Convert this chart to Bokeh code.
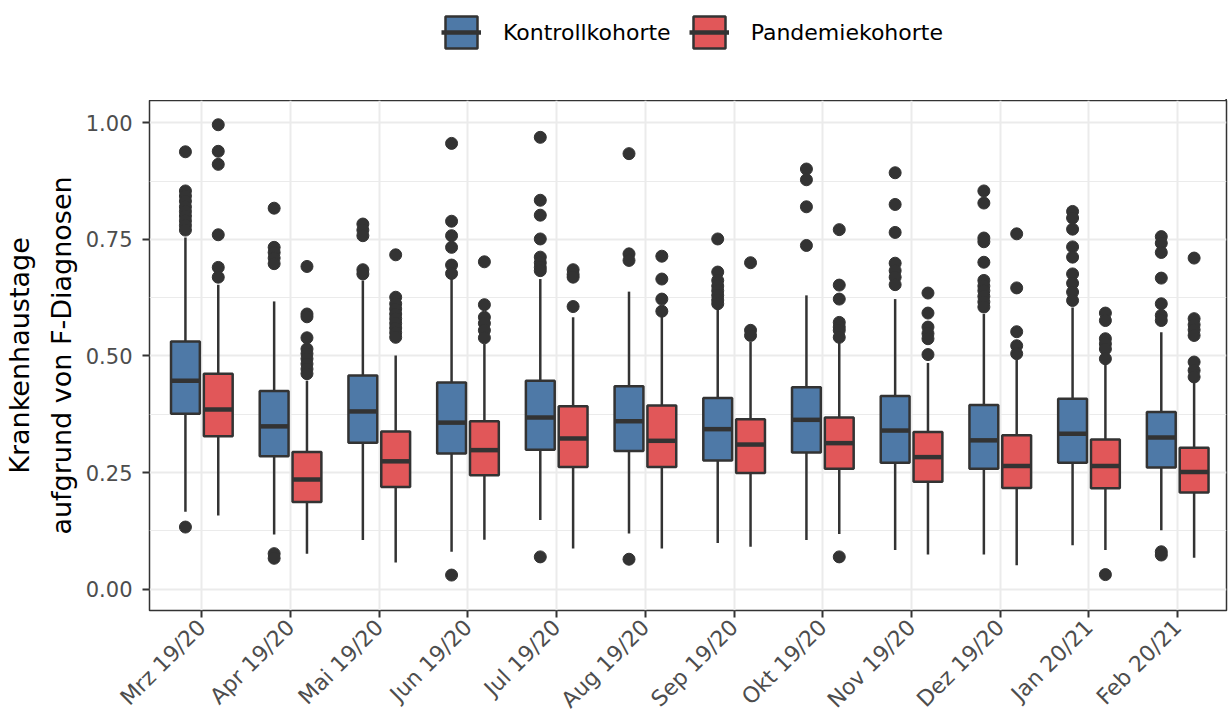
import math
from bokeh.plotting import figure
from bokeh.layouts import column
from bokeh.models import (ColumnDataSource, Range1d, FixedTicker, NumeralTickFormatter,
                          Legend, LegendItem)
from bokeh.transform import dodge
from bokeh.embed import file_html
from bokeh.resources import INLINE

months = ["Mrz 19/20", "Apr 19/20", "Mai 19/20", "Jun 19/20", "Jul 19/20", "Aug 19/20",
          "Sep 19/20", "Okt 19/20", "Nov 19/20", "Dez 19/20", "Jan 20/21", "Feb 20/21"]

# Kontrollkohorte (blue)
ctrl_low  = [0.166, 0.117, 0.105, 0.080, 0.148, 0.119, 0.099, 0.105, 0.084, 0.074, 0.094, 0.126]
ctrl_q1   = [0.376, 0.285, 0.314, 0.291, 0.299, 0.296, 0.276, 0.293, 0.271, 0.258, 0.271, 0.261]
ctrl_med  = [0.447, 0.349, 0.381, 0.357, 0.368, 0.360, 0.343, 0.363, 0.340, 0.319, 0.333, 0.325]
ctrl_q3   = [0.531, 0.425, 0.458, 0.443, 0.447, 0.435, 0.410, 0.433, 0.414, 0.395, 0.408, 0.380]
ctrl_high = [0.754, 0.617, 0.662, 0.669, 0.665, 0.638, 0.601, 0.630, 0.622, 0.590, 0.604, 0.551]
ctrl_out = [
    [0.938, 0.854, 0.843, 0.832, 0.820, 0.810, 0.800, 0.790, 0.780, 0.770, 0.133],
    [0.817, 0.733, 0.722, 0.710, 0.698, 0.076, 0.066],
    [0.783, 0.770, 0.758, 0.685, 0.676],
    [0.956, 0.789, 0.758, 0.733, 0.695, 0.677, 0.030],
    [0.969, 0.834, 0.802, 0.751, 0.712, 0.700, 0.690, 0.683, 0.069],
    [0.934, 0.719, 0.705, 0.064],
    [0.751, 0.680, 0.662, 0.650, 0.640, 0.630, 0.620, 0.612],
    [0.901, 0.878, 0.820, 0.737],
    [0.893, 0.825, 0.765, 0.699, 0.683, 0.669, 0.653],
    [0.854, 0.828, 0.753, 0.745, 0.701, 0.662, 0.650, 0.640, 0.628, 0.616, 0.605],
    [0.810, 0.796, 0.772, 0.734, 0.712, 0.676, 0.656, 0.637, 0.619],
    [0.756, 0.742, 0.722, 0.667, 0.612, 0.587, 0.576, 0.080, 0.073],
]

# Pandemiekohorte (red)
pand_low  = [0.158, 0.076, 0.057, 0.106, 0.087, 0.087, 0.091, 0.118, 0.074, 0.051, 0.084, 0.067]
pand_q1   = [0.328, 0.187, 0.219, 0.244, 0.262, 0.262, 0.249, 0.258, 0.230, 0.217, 0.216, 0.207]
pand_med  = [0.385, 0.235, 0.274, 0.298, 0.323, 0.318, 0.310, 0.313, 0.283, 0.264, 0.264, 0.251]
pand_q3   = [0.462, 0.294, 0.338, 0.360, 0.392, 0.394, 0.364, 0.368, 0.337, 0.330, 0.321, 0.303]
pand_high = [0.653, 0.447, 0.501, 0.526, 0.583, 0.585, 0.530, 0.539, 0.485, 0.492, 0.487, 0.447]
pand_out = [
    [0.996, 0.939, 0.911, 0.760, 0.690, 0.669],
    [0.692, 0.590, 0.584, 0.539, 0.515, 0.505, 0.494, 0.483, 0.472, 0.462],
    [0.717, 0.626, 0.612, 0.601, 0.590, 0.580, 0.570, 0.560, 0.550, 0.540],
    [0.702, 0.610, 0.583, 0.570, 0.555, 0.539],
    [0.685, 0.675, 0.669, 0.606],
    [0.714, 0.665, 0.622, 0.596],
    [0.700, 0.555, 0.544],
    [0.771, 0.652, 0.622, 0.572, 0.562, 0.555, 0.540, 0.069],
    [0.635, 0.592, 0.562, 0.548, 0.537, 0.503],
    [0.762, 0.646, 0.552, 0.522, 0.505],
    [0.592, 0.576, 0.537, 0.526, 0.515, 0.494, 0.031],
    [0.710, 0.580, 0.567, 0.556, 0.544, 0.487, 0.469, 0.455],
]

y_ticks = [0.0, 0.25, 0.5, 0.75, 1.0]
y_minor = [0.125, 0.375, 0.625, 0.875]
y_title = "Krankenhaustage\naufgrund von F-Diagnosen"
series_labels = ["Kontrollkohorte", "Pandemiekohorte"]

BLUE = "#4E79A7"
RED = "#E15759"
DARK = "#333333"
FONT = "DejaVu Sans"
BW = 0.325
OFF = 0.185

xs = list(range(1, len(months) + 1))

# ---------------- main panel ----------------
p = figure(width=1228, height=624, output_backend="svg", toolbar_location=None,
           x_range=Range1d(0.41, 12.55), y_range=Range1d(-0.046, 1.048),
           min_border_left=149, min_border_right=2, min_border_top=0, min_border_bottom=114)
p.background_fill_color = "white"
p.border_fill_color = "white"
p.outline_line_color = DARK
p.outline_line_width = 1.5

series = []
for color, off, low, q1, med, q3, high, outs in [
    (BLUE, -OFF, ctrl_low, ctrl_q1, ctrl_med, ctrl_q3, ctrl_high, ctrl_out),
    (RED, OFF, pand_low, pand_q1, pand_med, pand_q3, pand_high, pand_out),
]:
    src = ColumnDataSource(dict(x=xs, low=low, q1=q1, med=med, q3=q3, high=high))
    series.append((src, color, off))
    p.segment(x0=dodge("x", off, range=p.x_range), y0="low",
              x1=dodge("x", off, range=p.x_range), y1="high",
              source=src, line_color=DARK, line_width=2.5)
    p.vbar(x=dodge("x", off, range=p.x_range), width=BW, top="q3", bottom="q1",
           source=src, fill_color=color, line_color=DARK, line_width=2.5)
    p.segment(x0=dodge("x", off - BW / 2, range=p.x_range), y0="med",
              x1=dodge("x", off + BW / 2, range=p.x_range), y1="med",
              source=src, line_color=DARK, line_width=4.5, line_cap="butt")
    ox, oy = [], []
    for xi, vals in zip(xs, outs):
        for v in vals:
            ox.append(xi)
            oy.append(v)
    osrc = ColumnDataSource(dict(x=ox, y=oy))
    p.scatter(x=dodge("x", off, range=p.x_range), y="y", source=osrc, size=12,
              fill_color=DARK, line_color=DARK)

# grids
p.xgrid.ticker = FixedTicker(ticks=xs)
p.xgrid.grid_line_color = "#EBEBEB"
p.xgrid.grid_line_width = 2
p.ygrid.ticker = FixedTicker(ticks=y_ticks, minor_ticks=y_minor)
p.ygrid.grid_line_color = "#EBEBEB"
p.ygrid.grid_line_width = 2
p.ygrid.minor_grid_line_color = "#EBEBEB"
p.ygrid.minor_grid_line_width = 1.2

# y axis
ya = p.yaxis[0]
ya.ticker = FixedTicker(ticks=y_ticks, minor_ticks=y_minor)
ya.formatter = NumeralTickFormatter(format="0.00")
ya.axis_line_color = None
ya.minor_tick_line_color = None
ya.major_tick_line_color = DARK
ya.major_tick_line_width = 2
ya.major_tick_out = 7
ya.major_tick_in = 0
ya.major_label_standoff = 10
ya.major_label_text_font = FONT
ya.major_label_text_font_size = "21px"
ya.major_label_text_color = "#4D4D4D"
ya.axis_label = y_title
ya.axis_label_text_font = FONT
ya.axis_label_text_font_size = "27px"
ya.axis_label_text_font_style = "normal"
ya.axis_label_text_color = "black"
ya.axis_label_text_line_height = 1.35
ya.axis_label_standoff = 6

# x axis
xa = p.xaxis[0]
xa.ticker = FixedTicker(ticks=xs)
xa.major_label_overrides = {x: m for x, m in zip(xs, months)}
xa.major_label_orientation = math.pi / 4
xa.axis_line_color = None
xa.minor_tick_line_color = None
xa.major_tick_line_color = DARK
xa.major_tick_line_width = 2
xa.major_tick_out = 7
xa.major_tick_in = 0
xa.major_label_standoff = 6
xa.major_label_text_font = FONT
xa.major_label_text_font_size = "22px"
xa.major_label_text_color = "#4D4D4D"

# ---------------- legend strip on top ----------------
# The key glyphs reuse the box data; this strip's ranges lie outside the data,
# so only the legend itself is visible here.
lg = figure(width=1228, height=100, output_backend="svg", toolbar_location=None,
            x_range=Range1d(-30, -20), y_range=Range1d(10, 11),
            x_axis_type=None, y_axis_type=None, min_border=0)
lg.outline_line_color = None
lg.grid.visible = False
lg.background_fill_color = "white"
lg.border_fill_color = "white"

items = []
for label, (src, color, off) in zip(series_labels, series):
    kb = lg.vbar(x=dodge("x", off, range=lg.x_range), width=BW, top="q3", bottom="q1",
                 source=src, fill_color=color, line_color=DARK, line_width=2.5)
    km = lg.segment(x0=dodge("x", off - BW / 2, range=lg.x_range), y0="med",
                    x1=dodge("x", off + BW / 2, range=lg.x_range), y1="med",
                    source=src, line_color=DARK, line_width=4.5, line_cap="butt")
    items.append(LegendItem(label=label, renderers=[kb, km], index=0))

legend = Legend(items=items, orientation="horizontal", location=(292, 48),
                glyph_width=40, glyph_height=40, label_standoff=22, spacing=18,
                padding=0, margin=0, border_line_color=None, background_fill_alpha=0,
                label_text_font=FONT, label_text_font_size="22px", label_text_color="black")
lg.add_layout(legend)

layout = column(lg, p, spacing=0)

open("out.html", "w").write(file_html(layout, INLINE))
